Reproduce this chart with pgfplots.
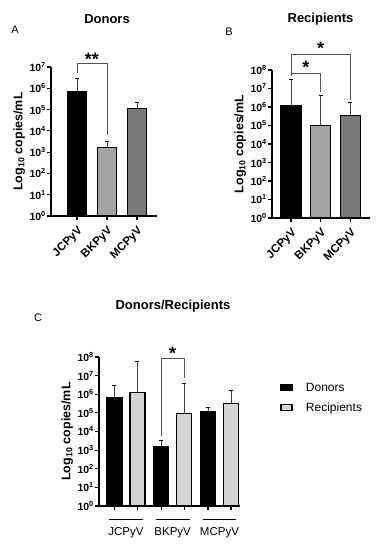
\documentclass[border=0pt]{standalone}
\usepackage{fontspec}
\setmainfont{Liberation Sans}
\usepackage{pgfplots}
\pgfplotsset{compat=1.18}
\definecolor{lgray}{HTML}{A3A3A3}
\definecolor{dgray}{HTML}{7A7A7A}
\definecolor{rgray}{HTML}{D4D4D4}
\definecolor{brk}{HTML}{555555}
\newcommand{\tk}[1]{\textbf{10\textsuperscript{#1}}}
\newcommand{\sig}[1]{{\fontsize{18}{18}\selectfont\bfseries #1}}
\begin{document}
\begin{tikzpicture}
\path[use as bounding box] (0,0) rectangle (381pt,550pt);
\node[font=\fontsize{13}{14}\selectfont\bfseries] at (107pt,530.5pt) {Donors};
\node[font=\fontsize{13}{14}\selectfont\bfseries] at (320.5pt,531pt) {Recipients};
\node[font=\fontsize{13}{14}\selectfont\bfseries] at (173pt,244pt) {Donors/Recipients};
\node[font=\fontsize{11}{12}\selectfont] at (15pt,520pt) {A};
\node[font=\fontsize{11}{12}\selectfont] at (229pt,518pt) {B};
\node[font=\fontsize{11}{12}\selectfont] at (38pt,232pt) {C};

% Panel A
\begin{axis}[scale only axis, clip=false, axis lines=left,
  axis line style={line width=1.3pt,-},
  ymode=log, log basis y=10, ymin=1, ymax=1e7,
  ytick={1,10,100,1000,10000,100000,1000000,10000000},
  yticklabels={\tk{0},\tk{1},\tk{2},\tk{3},\tk{4},\tk{5},\tk{6},\tk{7}},
  tick align=outside, major tick length=4pt,
  tick style={line width=1.2pt,black},
  yticklabel style={font=\fontsize{10.5}{12}\selectfont, inner sep=1pt},
  ylabel={\textbf{Log\textsubscript{10} copies/mL}},
  ylabel style={font=\fontsize{12.5}{14}\selectfont},
  xticklabel style={font=\fontsize{11.5}{12}\selectfont\bfseries, rotate=45, anchor=north east, inner sep=1pt},
  xticklabel shift=4pt,
  at={(51pt,334pt)}, anchor=south west,
  width=106pt, height=149pt,
  xmin=-0.867, xmax=2.667, xtick={0,1,2}, xticklabels={JCPyV,BKPyV,MCPyV},
  ybar, bar width=19pt, bar shift=0pt]
\addplot[draw=black, line width=1.3pt, fill=black,
   error bars/y dir=plus, error bars/y explicit,
   error bars/error bar style={line width=0.7pt, draw=black!75}]
   coordinates {(0,6.6e5) +- (0,2.34e6)};
\addplot[draw=black, line width=1.3pt, fill=lgray,
   error bars/y dir=plus, error bars/y explicit,
   error bars/error bar style={line width=0.7pt, draw=black!75}]
   coordinates {(1,1.6e3) +- (0,1.8e3)};
\addplot[draw=black, line width=1.3pt, fill=dgray,
   error bars/y dir=plus, error bars/y explicit,
   error bars/error bar style={line width=0.7pt, draw=black!75}]
   coordinates {(2,1.1e5) +- (0,1.1e5)};
\addplot[sharp plot, draw=brk, line width=0.8pt] coordinates {(0,5e6) (0,1.45e7) (1,1.45e7) (1,6.3e3)};
\node[anchor=base, yshift=-1.8pt] at (axis cs:0.5,1.45e7) {\sig{**}};
\end{axis}

% Panel B
\begin{axis}[scale only axis, clip=false, axis lines=left,
  axis line style={line width=1.3pt,-},
  ymode=log, log basis y=10, ymin=1, ymax=1e8,
  ytick={1,10,100,1000,10000,100000,1000000,10000000,100000000},
  yticklabels={\tk{0},\tk{1},\tk{2},\tk{3},\tk{4},\tk{5},\tk{6},\tk{7},\tk{8}},
  tick align=outside, major tick length=4pt,
  tick style={line width=1.2pt,black},
  yticklabel style={font=\fontsize{10.5}{12}\selectfont, inner sep=1pt},
  ylabel={\textbf{Log\textsubscript{10} copies/mL}},
  ylabel style={font=\fontsize{12.5}{14}\selectfont},
  xticklabel style={font=\fontsize{11.5}{12}\selectfont\bfseries, rotate=45, anchor=north east, inner sep=1pt},
  xticklabel shift=4pt,
  at={(272pt,332pt)}, anchor=south west,
  width=98pt, height=148pt,
  xmin=-0.64, xmax=2.66, xtick={0,1,2}, xticklabels={JCPyV,BKPyV,MCPyV},
  ybar, bar width=20pt, bar shift=0pt]
\addplot[draw=black, line width=1.3pt, fill=black,
   error bars/y dir=plus, error bars/y explicit,
   error bars/error bar style={line width=0.7pt, draw=black!75}]
   coordinates {(0,1.2e6) +- (0,3.2e7)};
\addplot[draw=black, line width=1.3pt, fill=lgray,
   error bars/y dir=plus, error bars/y explicit,
   error bars/error bar style={line width=0.7pt, draw=black!75}]
   coordinates {(1,1e5) +- (0,4.2e6)};
\addplot[draw=black, line width=1.3pt, fill=dgray,
   error bars/y dir=plus, error bars/y explicit,
   error bars/error bar style={line width=0.7pt, draw=black!75}]
   coordinates {(2,3.5e5) +- (0,1.4e6)};
\addplot[sharp plot, draw=brk, line width=0.8pt] coordinates {(0,4.8e7) (0,6.9e7) (1,6.9e7) (1,6.3e6)};
\addplot[sharp plot, draw=brk, line width=0.8pt] coordinates {(0,6.9e7) (0,6.8e8) (2,6.8e8) (2,2.4e6)};
\node[anchor=base, yshift=-0.2pt] at (axis cs:0.5,6.9e7) {\sig{*}};
\node[anchor=base, yshift=0.5pt] at (axis cs:1,6.8e8) {\sig{*}};
\end{axis}

% Panel C
\begin{axis}[scale only axis, clip=false, axis lines=left,
  axis line style={line width=1.3pt,-},
  ymode=log, log basis y=10, ymin=1, ymax=1e8,
  ytick={1,10,100,1000,10000,100000,1000000,10000000,100000000},
  yticklabels={\tk{0},\tk{1},\tk{2},\tk{3},\tk{4},\tk{5},\tk{6},\tk{7},\tk{8}},
  tick align=outside, major tick length=4pt,
  tick style={line width=1.2pt,black},
  yticklabel style={font=\fontsize{10.5}{12}\selectfont, inner sep=1pt},
  ylabel={\textbf{Log\textsubscript{10} copies/mL}},
  ylabel style={font=\fontsize{12.5}{14}\selectfont},
  at={(99pt,44pt)}, anchor=south west,
  width=141pt, height=149pt,
  xmin=-0.577, xmax=2.44,
  xtick={-0.2457,0.2457,0.7543,1.2457,1.7543,2.2457}, xticklabels={},
  ybar, bar width=15pt,
  legend style={at={(1.285,0.835)}, anchor=north west, draw=none, fill=none,
    font=\fontsize{12}{13}\selectfont, row sep=8pt, inner sep=0pt,
    nodes={inner sep=1pt}},
  legend cell align=left,
  legend image code/.code={\draw[line width=1.2pt,#1] (0pt,-3pt) rectangle (11pt,3pt); \path[draw=none,fill=none] (0pt,0pt) -- (24pt,0pt);}]
\addplot[draw=black, line width=1.3pt, fill=black, bar shift=-11.5pt,
   error bars/y dir=plus, error bars/y explicit,
   error bars/error bar style={line width=0.7pt, draw=black!75}]
   coordinates {
 (0,6.6e5) +- (0,2.34e6)
 (1,1.6e3) +- (0,1.8e3)
 (2,1.1e5) +- (0,1.0e5)};
\addlegendentry{Donors}
\addplot[draw=black, line width=1.3pt, fill=rgray, bar shift=11.5pt,
   error bars/y dir=plus, error bars/y explicit,
   error bars/error bar style={line width=0.7pt, draw=black!75}]
   coordinates {
 (0,1.2e6) +- (0,5.8e7)
 (1,9e4) +- (0,3.6e6)
 (2,3.2e5) +- (0,1.4e6)};
\addlegendentry{Recipients}
\addplot[sharp plot, draw=brk, line width=0.8pt, forget plot] coordinates {(0.7543,5.6e3) (0.7543,8.2e7) (1.2457,8.2e7) (1.2457,7.6e6)};
\node[anchor=base, yshift=-1.2pt] at (axis cs:1,8.2e7) {\sig{*}};
\draw[line width=1pt] ([yshift=-13pt]axis cs:-0.36,1) -- ([yshift=-13pt]axis cs:0.36,1);
\draw[line width=1pt] ([yshift=-13pt]axis cs:0.64,1) -- ([yshift=-13pt]axis cs:1.36,1);
\draw[line width=1pt] ([yshift=-13pt]axis cs:1.64,1) -- ([yshift=-13pt]axis cs:2.36,1);
\node[font=\fontsize{11.5}{12}\selectfont] at ([yshift=-27pt]axis cs:0,1) {JCPyV};
\node[font=\fontsize{11.5}{12}\selectfont] at ([yshift=-27pt]axis cs:1,1) {BKPyV};
\node[font=\fontsize{11.5}{12}\selectfont] at ([yshift=-27pt]axis cs:2,1) {MCPyV};
\end{axis}
\end{tikzpicture}
\end{document}
